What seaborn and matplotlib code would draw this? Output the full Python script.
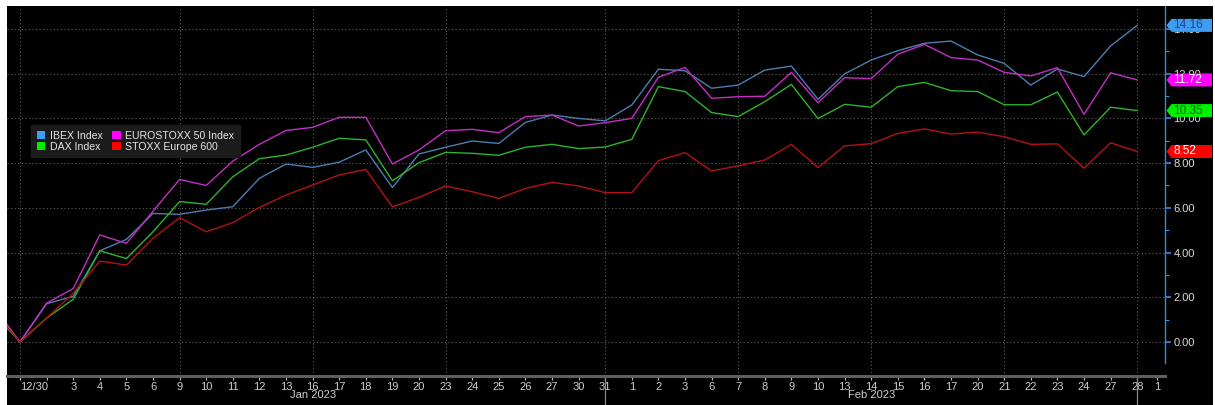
import matplotlib
matplotlib.use("Agg")
import matplotlib.pyplot as plt
import matplotlib.transforms as mtrans
from matplotlib.patches import Patch, Polygon
import numpy as np
import pandas as pd
import seaborn as sns

# ---------------- data ----------------
dates = (["2022-12-29", "2022-12-30"] +
         ["2023-01-%02d" % d for d in [2, 3, 4, 5, 6, 9, 10, 11, 12, 13, 16, 17, 18, 19, 20,
                                       23, 24, 25, 26, 27, 30, 31]] +
         ["2023-02-%02d" % d for d in [1, 2, 3, 6, 7, 8, 9, 10, 13, 14, 15, 16, 17, 20, 21,
                                       22, 23, 24, 27, 28]])

series_names = ["IBEX Index", "DAX Index", "EUROSTOXX 50 Index", "STOXX Europe 600"]

ibex = [1.5, 0, 1.71, 2.04, 4.08, 4.59, 5.75, 5.71, 5.9, 6.05, 7.32, 7.96, 7.81, 8.04, 8.59,
        6.91, 8.41, 8.71, 8.99, 8.88, 9.82, 10.15, 10.0, 9.89, 10.6, 12.2, 12.13, 11.35, 11.49,
        12.16, 12.34, 10.85, 11.99, 12.61, 13.03, 13.36, 13.46, 12.84, 12.46, 11.49, 12.21,
        11.87, 13.24, 14.16]
euro = [1.6, 0, 1.74, 2.39, 4.79, 4.41, 5.85, 7.27, 7.0, 8.09, 8.84, 9.46, 9.6, 10.05, 10.05,
        7.96, 8.59, 9.45, 9.51, 9.36, 10.08, 10.15, 9.66, 9.81, 10.0, 11.84, 12.28, 10.9, 10.97,
        10.99, 12.06, 10.7, 11.82, 11.78, 12.87, 13.31, 12.72, 12.61, 12.06, 11.9, 12.27,
        10.18, 12.04, 11.72]
dax = [1.3, 0, 1.07, 1.91, 4.08, 3.73, 4.93, 6.28, 6.16, 7.39, 8.2, 8.36, 8.71, 9.11, 9.04,
       7.21, 8.02, 8.48, 8.44, 8.35, 8.71, 8.84, 8.65, 8.72, 9.06, 11.42, 11.2, 10.26, 10.08,
       10.75, 11.52, 9.99, 10.63, 10.5, 11.42, 11.61, 11.24, 11.2, 10.61, 10.61, 11.18,
       9.26, 10.5, 10.35]
stoxx = [1.4, 0, 1.07, 2.18, 3.62, 3.44, 4.64, 5.56, 4.93, 5.34, 6.02, 6.57, 7.02, 7.47, 7.72,
         6.04, 6.47, 6.98, 6.72, 6.42, 6.87, 7.14, 6.98, 6.68, 6.68, 8.11, 8.47, 7.65, 7.88,
         8.14, 8.84, 7.8, 8.77, 8.87, 9.33, 9.53, 9.3, 9.39, 9.18, 8.84, 8.86, 7.77, 8.91, 8.52]

last_labels = ["14.16", "10.35", "11.72", "8.52"]
month_labels = ["Jan 2023", "Feb 2023"]
extra_tick_label = "1"   # March 1

line_colors = {"IBEX Index": "#4d7db0", "DAX Index": "#2db32d",
               "EUROSTOXX 50 Index": "#c42ec4", "STOXX Europe 600": "#b31212"}
legend_colors = {"IBEX Index": "#3d9df0", "DAX Index": "#00ee00",
                 "EUROSTOXX 50 Index": "#ff00ff", "STOXX Europe 600": "#ff0000"}
box_text_colors = {"IBEX Index": "#23408a", "DAX Index": "#0b5e0b",
                   "EUROSTOXX 50 Index": "#ffffff", "STOXX Europe 600": "#ffffff"}

# ---------------- frame ----------------
values = {"IBEX Index": ibex, "DAX Index": dax, "EUROSTOXX 50 Index": euro,
          "STOXX Europe 600": stoxx}
dt = pd.to_datetime(dates)
pos = np.arange(len(dates))
df = pd.concat([pd.DataFrame({"pos": pos, "date": dt, "value": values[s], "series": s})
                for s in series_names], ignore_index=True)

sns.set_theme(style="dark")
plt.rcParams["font.family"] = ["Liberation Sans", "DejaVu Sans"]

W, H = 1215, 405
fig = plt.figure(figsize=(W / 100, H / 100), dpi=100, facecolor="white")

bg = fig.add_axes([7 / W, 0, 1206 / W, 399 / H])
bg.set_facecolor("black")
bg.set_xticks([]); bg.set_yticks([])
for s in bg.spines.values():
    s.set_visible(False)
bg.set_zorder(-1)

ax = fig.add_axes([7 / W, (H - 376) / H, (1165 - 7) / W, 370 / H])
ax.set_facecolor("black")

sns.lineplot(data=df, x="pos", y="value", hue="series", hue_order=series_names,
             palette=line_colors, linewidth=1.0, sort=False, legend=False, ax=ax)

x0 = 1 + (7 - 20) / 26.6
x1 = 1 + (1165 - 20) / 26.6
ax.set_xlim(x0, x1)
y_lo, y_hi = (342 - 376) / 22.36, (342 - 6) / 22.36
ax.set_ylim(y_lo, y_hi)

# grid
grid_kw = dict(color="#616161", lw=0.8, ls=(0, (1, 2.2)), zorder=0)
for v in np.arange(0, 15, 2):
    ax.axhline(v, **grid_kw)
vgrid = [1, 7, 12, 17, 23, 28, 33, 38, 43]
for i in vgrid:
    ax.axvline(i, **grid_kw)

# spines
for k in ["top", "left"]:
    ax.spines[k].set_visible(False)
ax.spines["right"].set_color("#3a8ad8")
ax.spines["right"].set_linewidth(1.0)
ax.spines["right"].set_bounds(-0.94, y_hi)
ax.spines["bottom"].set_color("#5e5e5e")
ax.spines["bottom"].set_linewidth(2.2)

# y axis on right
ax.yaxis.tick_right()
ax.set_yticks(np.arange(0, 15, 2))
ax.set_yticks(np.arange(1, 15, 2), minor=True)
ax.set_yticklabels(["%.2f" % v for v in np.arange(0, 15, 2)])
ax.tick_params(axis="y", which="major", direction="out", length=4, width=1.2,
               color="#3a8ad8", labelcolor="#dcdcdc", labelsize=8, pad=2,
               right=True, left=False)
ax.tick_params(axis="y", which="minor", direction="out", length=3, width=0.8,
               color="#3a8ad8", right=True, left=False)
ax.set_ylabel("")
ax.set_xlabel("")

# x axis ticks
tick_pos = list(pos[1:]) + [pos[-1] + 0.75]
tick_lab = []
for i, d in zip(pos[1:], dt[1:]):
    if i == 1:
        tick_lab.append("%d/%d" % (d.month, d.day))
    elif d == pd.Timestamp("2023-01-02"):
        tick_lab.append("")
    else:
        tick_lab.append(str(d.day))
tick_lab.append(extra_tick_label)
ax.set_xticks(tick_pos)
ax.set_xticklabels(tick_lab)
ax.tick_params(axis="x", direction="out", length=3, width=0.8, color="#bbbbbb",
               labelcolor="#cfcfcf", labelsize=8, pad=1.5, bottom=True)
ax.get_xticklabels()[0].set_horizontalalignment("left")

trans = mtrans.blended_transform_factory(ax.transData, ax.transAxes)
month_pos = [12, 33]
for mp, ml in zip(month_pos, month_labels):
    ax.text(mp, -0.052, ml, transform=trans, ha="center", va="center",
            color="#cfcfcf", fontsize=8, clip_on=False)
for sep in [23, 43]:
    ax.plot([sep, sep], [0, -0.075], transform=trans, color="#8a8a8a", lw=0.9,
            clip_on=False)

# legend
handles = [Patch(facecolor=legend_colors[s], edgecolor="none", label=s)
           for s in series_names]
leg = ax.legend(handles=handles, ncol=2, loc="upper left",
                bbox_to_anchor=(0.0165, 0.692), frameon=True, fancybox=False,
                facecolor="#1b1b1b", edgecolor="#1b1b1b", framealpha=1,
                fontsize=7.6, handlelength=0.8, handleheight=0.8,
                handletextpad=0.45, columnspacing=0.9, labelspacing=0.12,
                borderpad=0.5)
for t in leg.get_texts():
    t.set_color("#e6e6e6")

# last value boxes
btrans = mtrans.blended_transform_factory(ax.transAxes, ax.transData)
aw = 1158.0
hh = 6.5 / 22.36
for s, lab in zip(series_names, last_labels):
    v = values[s][-1]
    tipx = 1 + 1.5 / aw
    bx = 1 + 6.5 / aw
    ex = 1 + 47 / aw
    poly = Polygon([(tipx, v), (bx, v + hh), (ex, v + hh), (ex, v - hh), (bx, v - hh)],
                   closed=True, transform=btrans, facecolor=legend_colors[s],
                   edgecolor="none", clip_on=False, zorder=6)
    ax.add_patch(poly)
    ax.text(1 + 8 / aw, v, lab, transform=btrans, ha="left", va="center",
            color=box_text_colors[s], fontsize=8.5, clip_on=False, zorder=7)

fig.savefig("out.png", dpi=100, facecolor="white")
